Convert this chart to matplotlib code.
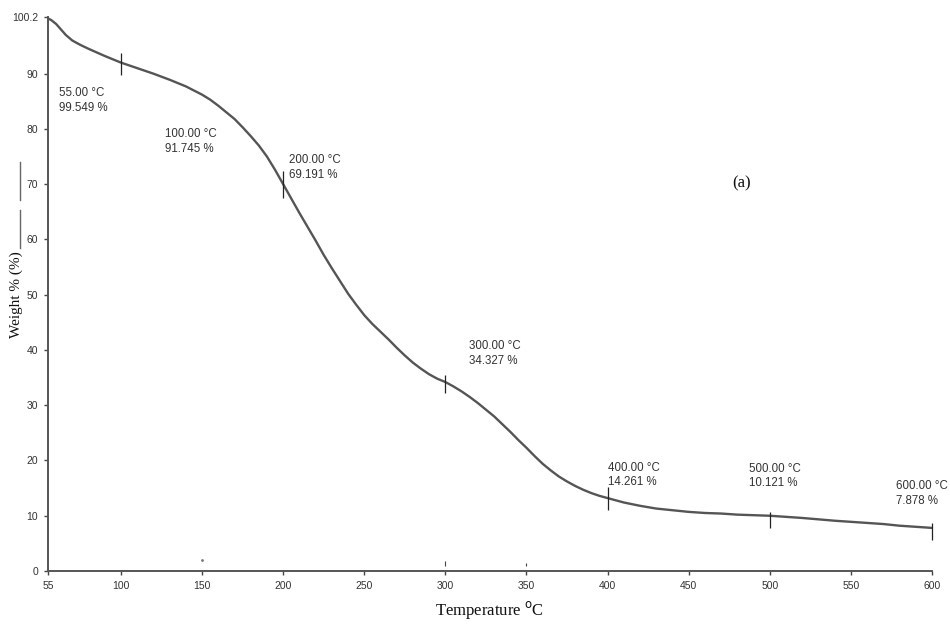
import matplotlib
matplotlib.use("Agg")
import matplotlib.pyplot as plt
from matplotlib.lines import Line2D

# ---- data ----
temperature = [55, 57, 60, 63, 66, 70, 75, 80, 90, 100, 110, 120, 130, 140, 150, 155, 160, 165,
               170, 175, 180, 185, 190, 195, 200, 205, 210, 215, 220, 225, 230, 235, 240, 245,
               250, 255, 260, 265, 270, 275, 280, 285, 290, 295, 300, 305, 310, 315, 320, 325,
               330, 335, 340, 345, 350, 355, 360, 365, 370, 375, 380, 385, 390, 395, 400, 410,
               420, 430, 440, 450, 460, 470, 480, 490, 500, 510, 520, 530, 540, 550, 560, 570,
               580, 590, 600]
weight = [100.0, 99.7, 99.0, 98.0, 97.0, 96.0, 95.2, 94.5, 93.2, 92.0, 91.0, 90.0, 88.9, 87.7,
          86.2, 85.3, 84.2, 83.0, 81.8, 80.3, 78.7, 77.0, 75.0, 72.6, 70.0, 67.4, 64.8, 62.3,
          59.8, 57.2, 54.8, 52.5, 50.2, 48.2, 46.3, 44.7, 43.3, 41.9, 40.4, 39.0, 37.7, 36.6,
          35.6, 34.8, 34.2, 33.4, 32.5, 31.5, 30.4, 29.2, 28.0, 26.6, 25.2, 23.7, 22.3, 20.8,
          19.4, 18.2, 17.1, 16.2, 15.4, 14.7, 14.1, 13.6, 13.2, 12.4, 11.8, 11.3, 11.0, 10.7,
          10.5, 10.4, 10.2, 10.1, 10.0, 9.8, 9.6, 9.35, 9.1, 8.9, 8.7, 8.5, 8.2, 8.0, 7.8]

marker_temps = [100, 200, 300, 400, 500, 600]
marker_lo = [89.7, 67.5, 32.3, 11.0, 7.8, 5.6]
marker_hi = [93.8, 72.3, 35.5, 15.2, 10.7, 8.7]

label_temps = ["55.00", "100.00", "200.00", "300.00", "400.00", "500.00", "600.00"]
label_weights = ["99.549", "91.745", "69.191", "34.327", "14.261", "10.121", "7.878"]
label_x = [61.8, 127, 203.6, 314.6, 400, 487, 578]
label_y = [87.5, 80.2, 75.4, 41.8, 19.8, 19.6, 16.5]

x_ticks = [55, 100, 150, 200, 250, 300, 350, 400, 450, 500, 550, 600]
y_ticks = [0, 10, 20, 30, 40, 50, 60, 70, 80, 90, 100.2]
y_ticklabels = ["0", "10", "20", "30", "40", "50", "60", "70", "80", "90", "100.2"]

sans = "Liberation Sans"
serif = "Liberation Serif"

fig = plt.figure(figsize=(9.5, 6.29), dpi=100)
ax = fig.add_axes([0.0505, 0.0922, 0.9305, 0.8803])

line_c = "#555555"
ax.plot(temperature, weight, color=line_c, lw=1.7, solid_capstyle="round")
ax.vlines(marker_temps, marker_lo, marker_hi, color="#222222", lw=0.9, clip_on=False)

for t, w, x, y in zip(label_temps, label_weights, label_x, label_y):
    ax.text(x, y, f"{t} °C\n{w} %", fontsize=8.3, family=sans, color="#333333",
            va="top", ha="left", linespacing=1.3)

ax.text(0.785, 0.70, "(a)", transform=ax.transAxes, fontsize=12, family=serif,
        color="#111111", ha="center", va="center")

# small stray marks near the baseline in the original
ax.vlines([300, 350], [0.9, 0.9], [1.9, 1.4], color="#444444", lw=0.8)
ax.plot([150], [2.0], marker="o", ms=1, color="#777777")

ax.set_xlim(55, 600)
ax.set_ylim(0, 100.2)
ax.set_xticks(x_ticks)
ax.set_xticklabels([str(v) for v in x_ticks], family=sans, fontsize=7.5, color="#333333")
ax.set_yticks(y_ticks)
ax.set_yticklabels(y_ticklabels, family=sans, fontsize=7.5, color="#333333")
ax.tick_params(axis="both", direction="out", length=3, width=1, color="#444444", pad=4)

for s in ["top", "right"]:
    ax.spines[s].set_visible(False)
for s in ["left", "bottom"]:
    ax.spines[s].set_color("#555555")
    ax.spines[s].set_linewidth(1.4)

ax.set_xlabel("Temperature $^{\\mathrm{o}}$C", family=serif, fontsize=12, color="#111111")
ax.set_ylabel("Weight % (%)", family=serif, fontsize=11, color="#111111")
ax.xaxis.set_label_coords(0.5, -0.050)
ax.yaxis.set_label_coords(-0.0285, 0.5)

# stray vertical marks at the left margin of the original scan
for y0, y1 in [(162, 200), (210, 248)]:
    fig.add_artist(Line2D([20 / 950, 20 / 950], [1 - y0 / 629, 1 - y1 / 629],
                          transform=fig.transFigure, color="#666666", lw=1.0))

fig.savefig("out.png", dpi=100, facecolor="white")
